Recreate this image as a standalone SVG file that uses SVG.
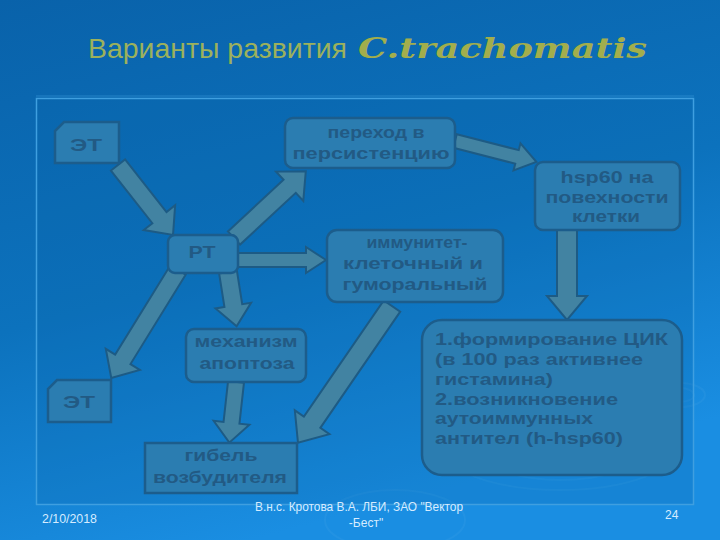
<svg xmlns="http://www.w3.org/2000/svg" width="720" height="540" viewBox="0 0 720 540">
<defs>
<linearGradient id="bg" x1="0" y1="0" x2="0.35" y2="1">
<stop offset="0" stop-color="#0962aa"/>
<stop offset="0.55" stop-color="#0c72bd"/>
<stop offset="1" stop-color="#1a8ee2"/>
</linearGradient>
<style>
.node{fill:#2b7db1;stroke:#1c5d8c;stroke-width:2.5}
.arr{fill:#4283a2;stroke:#1d5b85;stroke-width:2;stroke-linejoin:miter}
.t{font-family:"Liberation Sans",Arial,sans-serif;font-weight:bold;font-size:17px;fill:#225a84;text-anchor:middle}
.tl{font-family:"Liberation Sans",Arial,sans-serif;font-weight:bold;font-size:17px;fill:#225a84}
.f{font-family:"Liberation Sans",Arial,sans-serif;font-size:12px;fill:#d6ecff}
.rip{fill:none;stroke:#6fb8ee;stroke-opacity:0.1;stroke-width:2}
</style>
</defs>
<rect x="0" y="0" width="720" height="540" fill="url(#bg)"/>
<g id="ripples">
<ellipse class="rip" cx="560" cy="445" rx="120" ry="45"/>
<ellipse class="rip" cx="560" cy="450" rx="80" ry="30"/>
<ellipse class="rip" cx="680" cy="395" rx="25" ry="12"/>
<ellipse class="rip" cx="680" cy="395" rx="14" ry="7"/>
<ellipse class="rip" cx="395" cy="520" rx="70" ry="30"/>
</g>
<rect id="frame" x="36.5" y="98.5" width="657" height="406" fill="#0a62a8" fill-opacity="0.22" stroke="#3f9fe0" stroke-width="1.5"/>
<line x1="36" y1="96" x2="694" y2="96" stroke="#3f9fe0" stroke-opacity="0.5" stroke-width="1"/>

<g id="title">
<text x="88" y="58" font-family="'Liberation Sans',Arial,sans-serif" font-size="28" fill="#9cb15c" textLength="259" lengthAdjust="spacingAndGlyphs">Варианты развития</text>
<text x="358" y="58" font-family="'DejaVu Serif',serif" font-weight="bold" font-style="italic" font-size="28" fill="#a2ae4c" textLength="289" lengthAdjust="spacingAndGlyphs">C.trachomatis</text>
</g>

<g id="connectors">
<polygon class="arr" transform="translate(118,165) rotate(51.8)" points="0,-9 67,-9 67,-20 89,0 67,20 67,9 0,9"/>
<polygon class="arr" transform="translate(234,238) rotate(-42.9)" points="0,-9 76,-9 76,-20 98,0 76,20 76,9 0,9"/>
<polygon class="arr" transform="translate(238,260)" points="0,-7 68,-7 68,-13 88,0 68,13 68,7 0,7"/>
<polygon class="arr" transform="translate(178,270) rotate(121.7)" points="0,-9 105,-9 105,-20 127,0 105,20 105,9 0,9"/>
<polygon class="arr" transform="translate(228,272) rotate(81)" points="0,-9 34,-9 34,-18 55,0 34,18 34,9 0,9"/>
<polygon class="arr" transform="translate(236,382) rotate(96.3)" points="0,-8 41,-8 41,-18 61,0 41,18 41,8 0,8"/>
<polygon class="arr" transform="translate(392,306) rotate(124.5)" points="0,-10 141,-10 141,-21 166,0 141,21 141,10 0,10"/>
<polygon class="arr" transform="translate(455,141) rotate(14.4)" points="0,-7 64,-7 64,-14 84,0 64,14 64,7 0,7"/>
<polygon class="arr" transform="translate(567,230) rotate(90)" points="0,-10 66,-10 66,-20 90,0 66,20 66,10 0,10"/>
</g>

<g id="et-top">
<polygon class="node" points="64,122 119,122 119,163 55,163 55,131"/>
<text class="t" x="86" y="151" textLength="32" lengthAdjust="spacingAndGlyphs">ЭТ</text>
</g>
<g id="rt">
<rect class="node" x="168" y="235" width="70" height="38" rx="7"/>
<text class="t" x="202" y="258" textLength="27" lengthAdjust="spacingAndGlyphs">РТ</text>
</g>
<g id="persist">
<rect class="node" x="285" y="118" width="170" height="50" rx="8"/>
<text class="t" x="376" y="138" textLength="97" lengthAdjust="spacingAndGlyphs">переход в</text>
<text class="t" x="371" y="159" textLength="157" lengthAdjust="spacingAndGlyphs">персистенцию</text>
</g>
<g id="hsp60">
<rect class="node" x="535" y="162" width="145" height="68" rx="8"/>
<text class="t" x="607" y="183" textLength="93" lengthAdjust="spacingAndGlyphs">hsp60 на</text>
<text class="t" x="607" y="203" textLength="123" lengthAdjust="spacingAndGlyphs">повехности</text>
<text class="t" x="606" y="222" textLength="68" lengthAdjust="spacingAndGlyphs">клетки</text>
</g>
<g id="immunity">
<rect class="node" x="327" y="230" width="176" height="72" rx="10"/>
<text class="t" x="417" y="248" textLength="101" lengthAdjust="spacingAndGlyphs">иммунитет-</text>
<text class="t" x="413" y="269" textLength="140" lengthAdjust="spacingAndGlyphs">клеточный и</text>
<text class="t" x="415" y="290" textLength="145" lengthAdjust="spacingAndGlyphs">гуморальный</text>
</g>
<g id="et-bottom">
<polygon class="node" points="57,380 111,380 111,422 48,422 48,389"/>
<text class="t" x="79" y="408" textLength="32" lengthAdjust="spacingAndGlyphs">ЭТ</text>
</g>
<g id="apoptosis">
<rect class="node" x="186" y="329" width="120" height="53" rx="8"/>
<text class="t" x="246" y="347" textLength="103" lengthAdjust="spacingAndGlyphs">механизм</text>
<text class="t" x="247" y="369" textLength="95" lengthAdjust="spacingAndGlyphs">апоптоза</text>
</g>
<g id="death">
<rect class="node" x="145" y="443" width="152" height="50"/>
<text class="t" x="221" y="461" textLength="73" lengthAdjust="spacingAndGlyphs">гибель</text>
<text class="t" x="220" y="483" textLength="134" lengthAdjust="spacingAndGlyphs">возбудителя</text>
</g>
<g id="cic">
<rect class="node" x="422" y="320" width="260" height="155" rx="20"/>
<text class="tl" x="435" y="345" textLength="233" lengthAdjust="spacingAndGlyphs">1.формирование ЦИК</text>
<text class="tl" x="435" y="365" textLength="208" lengthAdjust="spacingAndGlyphs">(в 100 раз активнее</text>
<text class="tl" x="435" y="385" textLength="118" lengthAdjust="spacingAndGlyphs">гистамина)</text>
<text class="tl" x="435" y="405" textLength="183" lengthAdjust="spacingAndGlyphs">2.возникновение</text>
<text class="tl" x="435" y="424" textLength="158" lengthAdjust="spacingAndGlyphs">аутоиммунных</text>
<text class="tl" x="435" y="444" textLength="188" lengthAdjust="spacingAndGlyphs">антител (h-hsp60)</text>
</g>

<g id="footer">
<text class="f" x="42" y="523" textLength="55" lengthAdjust="spacingAndGlyphs">2/10/2018</text>
<text class="f" x="255" y="511" textLength="208" lengthAdjust="spacingAndGlyphs">В.н.с. Кротова В.А. ЛБИ, ЗАО "Вектор</text>
<text class="f" x="366" y="527" text-anchor="middle">-Бест"</text>
<text class="f" x="665" y="519">24</text>
</g>
</svg>
